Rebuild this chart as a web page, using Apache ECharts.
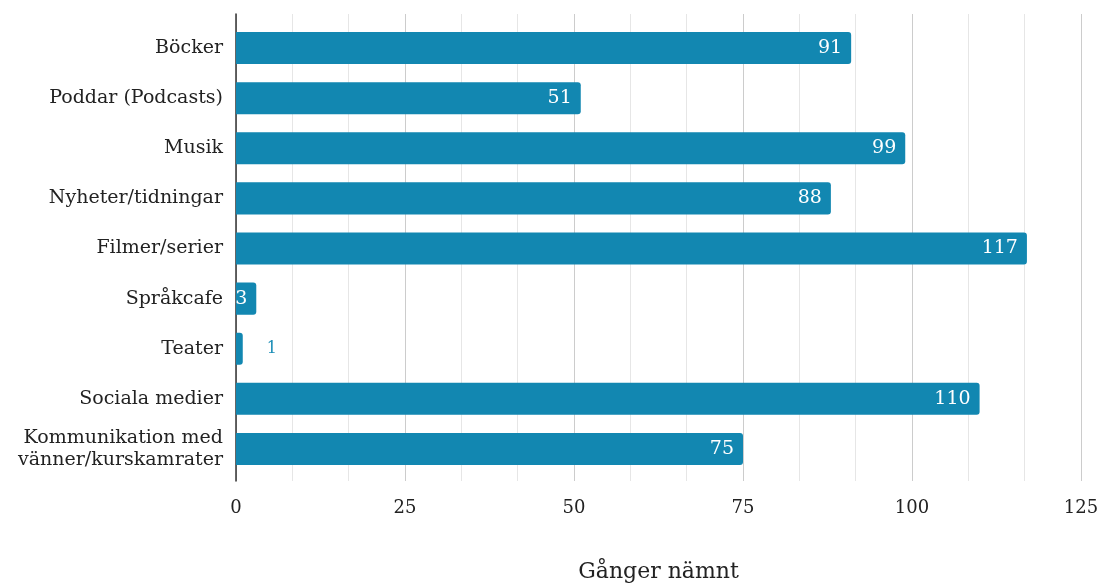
<!DOCTYPE html>
<html><head><meta charset="utf-8">
<script src="https://cdn.jsdelivr.net/npm/echarts@6/dist/echarts.min.js"></script>
<style>html,body{margin:0;padding:0;background:#fff}#c{width:1102px;height:584px}</style>
</head><body><div id="c"></div>
<script>
const categories = ["Böcker","Poddar (Podcasts)","Musik","Nyheter/tidningar","Filmer/serier","Språkcafe","Teater","Sociala medier","Kommunikation med\nvänner/kurskamrater"];
const values = [91,51,99,88,117,3,1,110,75];
const xTicks = [0,25,50,75,100,125];
const axisTitle = "Gånger nämnt";

const FONT = "'DejaVu Serif', serif";
const BAR = '#1287b1';
const xMin = xTicks[0], xMax = xTicks[xTicks.length-1];
const chart = echarts.init(document.getElementById('c'), null, {renderer:'canvas'});
chart.setOption({
  animation:false,
  grid:[
    {left:236,right:21,top:14,bottom:103,containLabel:false,outerBoundsMode:'none'},
    {left:236,right:21,top:23,bottom:110,containLabel:false,outerBoundsMode:'none'}
  ],
  xAxis:[{
    gridIndex:0, type:'value', min:xMin, max:xMax, interval:25,
    name:axisTitle, nameLocation:'middle', nameGap:80,
    nameTextStyle:{fontFamily:FONT,fontSize:22,color:'#222'},
    axisLine:{show:false}, axisTick:{show:false},
    axisLabel:{fontFamily:FONT,fontSize:18,color:'#222',margin:18},
    splitLine:{show:true,lineStyle:{color:'#cccccc',width:1}},
    minorTick:{show:false,splitNumber:3},
    minorSplitLine:{show:true,lineStyle:{color:'#e6e6e6',width:1}}
  },{
    gridIndex:1, type:'value', min:xMin, max:xMax, interval:25, show:false,
    splitLine:{show:false}
  }],
  yAxis:[{
    gridIndex:0, type:'category', data:[''], inverse:true,
    axisLine:{show:true,lineStyle:{color:'#333',width:1.5}},
    axisTick:{show:false}, axisLabel:{show:false}
  },{
    gridIndex:1, type:'category', data:categories, inverse:true,
    axisLine:{show:false}, axisTick:{show:false},
    axisLabel:{fontFamily:FONT,fontSize:19,color:'#222',margin:13,lineHeight:22}
  }],
  series:[{
    type:'bar', xAxisIndex:1, yAxisIndex:1,
    data:values.map((v)=>{
      if(v<3) return {value:v,label:{position:'right',distance:24,color:'#1a8db6',fontSize:16}};
      return v;
    }),
    barCategoryGap:'36%',
    itemStyle:{color:BAR,borderRadius:[0,3,3,0]},
    label:{show:true,position:'insideRight',distance:9,color:'#fff',fontFamily:FONT,fontSize:19}
  }]
});
</script></body></html>
